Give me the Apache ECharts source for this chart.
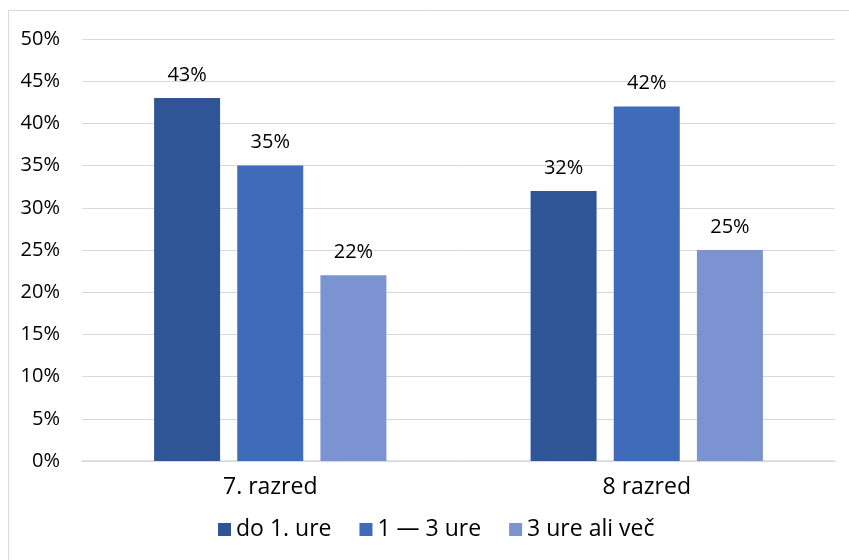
<!DOCTYPE html>
<html><head><meta charset="utf-8">
<script src="https://cdn.jsdelivr.net/npm/echarts@6/dist/echarts.min.js"></script>
<style>html,body{margin:0;padding:0;background:#fff}#c{width:849px;height:560px}</style>
</head><body><div id="c"></div>
<script>
const categories = ['7. razred', '8 razred'];
const seriesNames = ['do 1. ure', '1 \u2014 3 ure', '3 ure ali več'];
const doEne = [43, 32];
const enaDoTri = [35, 42];
const triVec = [22, 25];
const yTicks = [0, 5, 10, 15, 20, 25, 30, 35, 40, 45, 50];
const colors = ['#2F5597', '#3F6BBA', '#7B94D1'];
const font = '"Open Sans", "DejaVu Sans", sans-serif';
const chart = echarts.init(document.getElementById('c'));
const mk = (name, data, color) => ({
  name, type: 'bar', data, barWidth: 66, barGap: '26%',
  itemStyle: { color },
  label: { show: true, position: 'top', distance: 13, formatter: '{c}%', color: '#000', fontSize: 20, fontFamily: font }
});
chart.setOption({
  animation: false,
  graphic: [{ type: 'rect', shape: { x: 8.5, y: 10.5, width: 845, height: 560 }, style: { fill: 'none', stroke: '#d9d9d9', lineWidth: 1 } }],
  grid: { left: 82, right: 14, top: 39, bottom: 99 },
  legend: {
    top: 518, left: 218, padding: 0, itemWidth: 13, itemHeight: 13, itemGap: 28,
    icon: 'rect', textStyle: { fontSize: 23, color: '#000', fontFamily: font },
    data: seriesNames
  },
  xAxis: {
    type: 'category', data: categories,
    axisLine: { lineStyle: { color: '#d9d9d9', width: 1.5 } }, axisTick: { show: false },
    axisLabel: { color: '#000', fontSize: 23, fontFamily: font, margin: 15 }
  },
  yAxis: {
    type: 'value', min: yTicks[0], max: yTicks[yTicks.length - 1], interval: 5,
    axisLine: { show: false }, axisTick: { show: false },
    splitLine: { lineStyle: { color: '#d9d9d9', width: 1 } },
    axisLabel: { color: '#000', fontSize: 20, fontFamily: font, formatter: '{value}%', margin: 22 }
  },
  series: [mk(seriesNames[0], doEne, colors[0]), mk(seriesNames[1], enaDoTri, colors[1]), mk(seriesNames[2], triVec, colors[2])]
});
</script></body></html>
